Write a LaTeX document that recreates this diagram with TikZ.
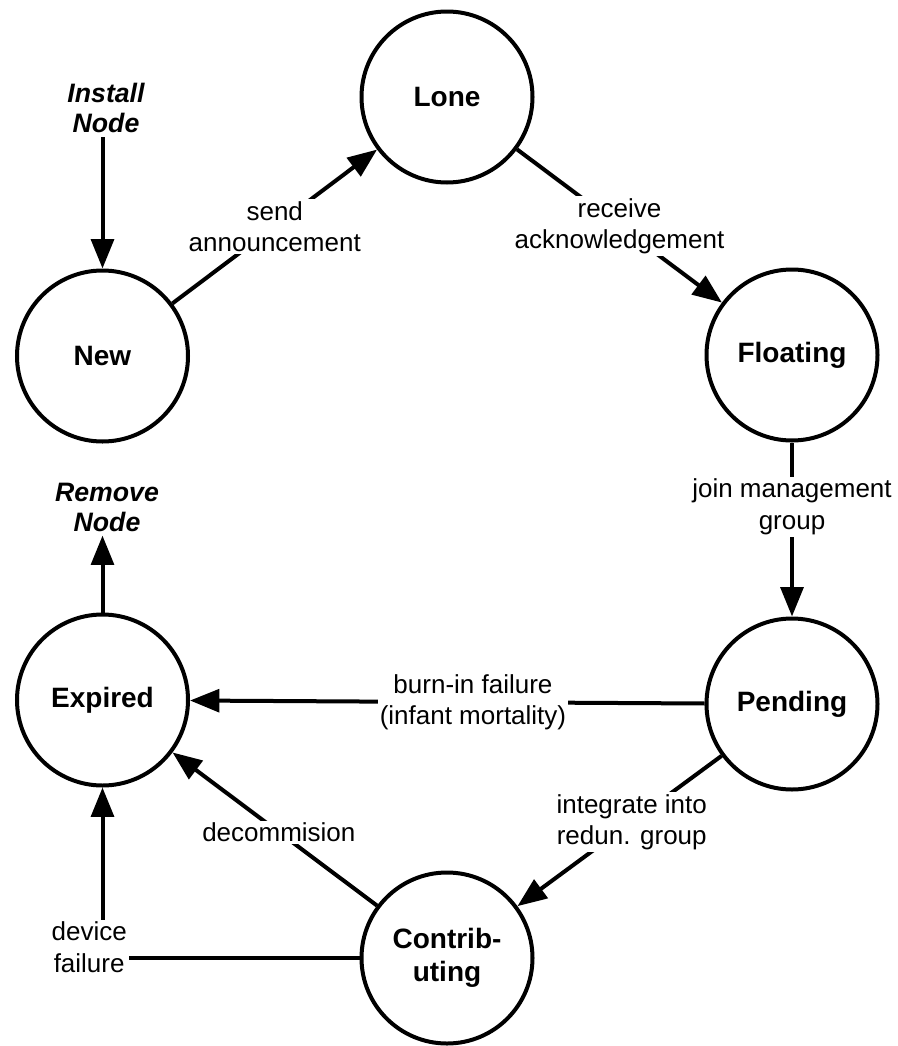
\documentclass[tikz,border=0pt]{standalone}
\usepackage{fontspec}
\setmainfont{Liberation Sans}
\usetikzlibrary{arrows.meta}
% type sizes for states, edge labels and the install/remove terminals
\newcommand\edgefont{\fontsize{19.5pt}{23.5pt}\selectfont}
\newcommand\statefont{\fontsize{21pt}{25pt}\selectfont\bfseries}
\newcommand\termfont{\fontsize{20pt}{22.5pt}\selectfont\bfseries\itshape}

\begin{document}
\begin{tikzpicture}[x=0.75pt, y=-0.75pt,
  state/.style={circle, draw, line width=3pt, minimum size=128.25pt,
                inner sep=0pt, align=center, font=\statefont},
  term/.style={align=center, inner sep=3pt, font=\termfont},
  lbl/.style={fill=white, inner sep=1.5pt, align=center, font=\edgefont},
  arr/.style={line width=3pt, -{Triangle[length=22pt, width=17pt]}}
]
\useasboundingbox (0,0) rectangle (898,1046);

% states of the node life cycle
\node[state] (lone)  at (447,97)    {Lone};
\node[state] (new)   at (102.5,356) {New};
\node[state] (float) at (792,355)   {Floating};
\node[state] (pend)  at (792,704)   {Pending};
\node[state] (exp)   at (102.5,700) {Expired};
\node[state] (cont)  at (447,958)   {Contrib-\\uting};

% entry and exit of the cycle
\node[term] (install) at (106,108) {Install\\Node};
\node[term] (remove)  at (107,507) {Remove\\Node};

\draw[arr] (install.south -| new) -- (new);
\draw[arr] (exp) -- (remove.south -| exp);

% transitions
\draw[arr] (new) -- node[lbl] {send\\announcement} (lone);
\draw[arr] (lone) -- node[lbl] {receive\\acknowledgement} (float);
\draw[arr] (float) -- node[lbl, pos=0.37] {join management\\group} (pend);
\draw[arr] (pend) -- node[lbl, pos=0.45] {burn-in failure\\(infant mortality)} (exp);
\draw[arr] (pend) -- node[lbl, pos=0.44] {integrate into\\redun. group} (cont);
\draw[arr] (cont) -- node[lbl, pos=0.48] {decommision} (exp);
\draw[arr] (cont) -| node[lbl, pos=0.5, xshift=-10pt, yshift=8pt] {device\\failure} (exp);
\end{tikzpicture}
\end{document}
